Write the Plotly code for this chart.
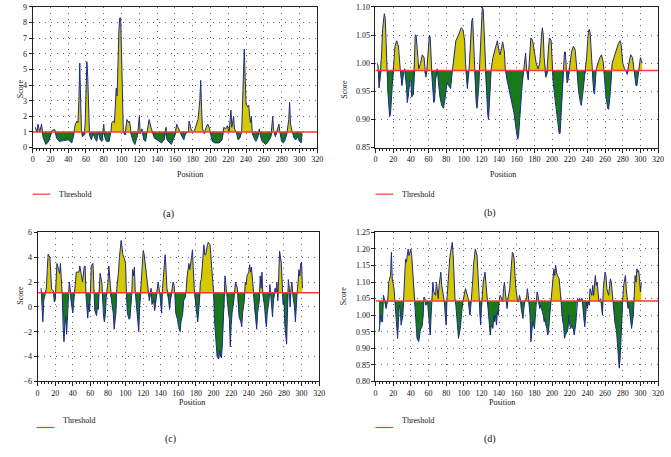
import plotly.graph_objects as go

# ---------------- data ----------------
PROFILE_A = [(3,1.3),(5,1.0),(6,1.5),(8,1.0),(10,1.5),(12,0.6),(15,0.2),(18,0.4),(22,1.1),(25,1.15),
 (27,0.6),(30,0.4),(35,0.45),(40,0.5),(44,0.3),(46,0.7),(47,1.2),(48,1.5),(50,1.7),(51,1.6),
 (52,3.0),(53,5.4),(54,3.0),(55,1.0),(56,0.7),(58,0.8),(59,1.5),(60,3.0),(61,5.5),(62,4.5),
 (63,2.0),(64,0.8),(66,0.5),(68,0.9),(70,0.6),(72,0.4),(74,1.0),(76,0.5),(78,0.4),(80,1.5),
 (81,0.7),(83,0.4),(86,0.4),(88,1.0),(89,1.6),(91,1.7),(92,1.6),(93,3.4),(94,3.8),(95,3.3),
 (96,6.8),(97,7.5),(98,8.3),(99,8.3),(100,6.0),(101,2.3),(102,1.0),(104,0.8),(106,1.8),(108,1.6),
 (109,1.7),(111,0.8),(113,0.4),(115,0.2),(118,0.8),(120,2.0),(121,0.9),(123,1.2),(125,0.5),(127,0.4),
 (129,1.0),(131,1.8),(133,1.3),(135,0.9),(137,0.6),(140,0.5),(142,0.4),(145,0.3),(148,0.5),(150,1.3),
 (151,0.5),(153,0.4),(156,0.2),(158,0.5),(160,0.8),(162,1.5),(164,1.2),(166,1.0),(168,0.7),(170,0.5),
 (172,0.9),(175,1.0),(176,1.7),(178,1.2),(180,1.0),(182,1.1),(184,1.5),(186,1.8),(188,3.0),(189,4.3),
 (190,2.5),(191,1.2),(193,0.9),(195,1.3),(197,1.5),(199,1.2),(200,0.9),(202,0.4),(205,0.3),(210,0.3),
 (213,0.5),(215,1.3),(217,1.2),(219,1.4),(221,1.0),(222,1.8),(223,2.4),(224,1.3),(226,2.0),(227,1.2),
 (229,1.0),(231,0.5),(233,0.6),(235,1.0),(236,3.0),(237,5.0),(238,6.3),(239,4.5),(240,2.8),(242,2.6),
 (243,2.7),(244,2.0),(245,1.6),(246,2.0),(247,0.9),(249,0.6),(251,0.4),(253,0.6),(255,1.2),(256,0.8),
 (258,0.4),(260,0.3),(262,0.2),(264,0.3),(266,0.5),(268,0.7),(270,2.0),(271,1.1),(273,0.7),(275,1.2),
 (277,1.5),(278,1.0),(280,0.4),(282,0.3),(284,0.5),(286,0.9),(288,1.8),(289,2.9),(290,1.5),(292,1.0),
 (294,0.6),(296,0.5),(298,0.7),(300,0.4),(302,0.3),(303,0.9)]

PROFILE_B = [(2,1.0),(3,0.995),(4,0.956),(5,0.97),(7,1.02),(8,1.06),(10,1.088),(11,1.08),(12,1.04),(13,0.99),
 (14,0.95),(16,0.905),(17,0.91),(19,0.96),(21,1.0),(22,1.03),(24,1.04),(26,1.03),(28,0.99),(29,0.97),
 (30,0.96),(32,0.985),(33,0.99),(35,0.96),(36,0.93),(37,0.94),(39,0.97),(40,0.97),(41,0.94),(43,0.945),
 (45,1.05),(46,1.05),(48,1.0),(49,0.99),(51,1.0),(53,1.015),(55,1.01),(56,0.98),(57,0.975),(58,0.985),
 (60,1.03),(61,1.05),(62,1.045),(63,1.0),(64,0.975),(66,0.93),(67,0.935),(68,0.97),(70,0.99),(71,0.97),
 (73,0.94),(75,0.925),(77,0.92),(79,0.94),(81,0.965),(83,0.96),(85,0.955),(87,0.985),(89,1.02),(91,1.04),
 (94,1.05),(97,1.063),(99,1.06),(101,1.04),(102,1.0),(103,0.97),(104,0.955),(106,0.99),(108,1.06),(109,1.075),
 (110,1.08),(111,1.04),(112,0.99),(114,0.93),(115,0.92),(117,0.96),(118,1.0),(120,1.06),(121,1.10),(122,1.095),
 (123,1.06),(124,1.0),(125,0.96),(127,0.91),(128,0.90),(130,0.95),(131,0.99),(133,1.01),(136,1.03),(138,1.04),
 (140,1.02),(141,1.015),(143,1.03),(144,1.038),(146,1.02),(147,0.99),(149,0.97),(151,0.955),(153,0.945),(155,0.93),
 (157,0.91),(159,0.885),(161,0.865),(162,0.87),(164,0.92),(166,0.96),(168,0.99),(169,1.01),(170,1.018),(171,0.99),
 (172,0.975),(173,0.97),(174,1.0),(176,1.045),(178,1.04),(180,1.02),(182,1.0),(184,0.99),(186,1.0),(188,1.05),
 (189,1.063),(190,1.05),(191,1.01),(193,0.975),(194,0.98),(196,1.03),(197,1.045),(199,1.04),(200,1.0),(201,0.97),
 (203,0.94),(205,0.91),(207,0.88),(208,0.875),(209,0.875),(211,0.93),(213,0.98),(214,1.02),(215,1.02),(216,0.98),
 (217,0.965),(218,0.97),(220,1.0),(222,1.02),(224,1.03),(226,1.025),(228,0.99),(230,0.95),(232,0.93),(233,0.925),
 (235,0.95),(237,0.98),(239,1.01),(241,1.055),(242,1.06),(243,1.055),(245,0.99),(247,0.95),(248,0.945),(250,0.99),
 (252,1.0),(254,1.01),(256,1.015),(258,1.0),(259,0.98),(261,0.94),(263,0.92),(264,0.918),(266,0.95),(268,1.0),
 (270,1.01),(272,1.02),(275,1.035),(277,1.04),(278,1.035),(280,1.0),(282,0.99),(284,0.985),(285,0.98),(287,1.0),
 (289,1.015),(291,1.01),(293,0.985),(295,0.96),(296,0.96),(298,0.99),(300,1.01),(301,1.005),(302,1.0)]

PROFILE_C = [(4,1.5),(5,0.5),(6,-1.2),(7,0.5),(9,1.3),(10,1.5),(11,3.0),(12,4.25),(14,4.0),(15,2.5),
 (16,1.4),(18,1.3),(19,0.4),(20,0.5),(21,2.0),(22,3.5),(24,3.0),(25,2.7),(26,3.5),(27,2.5),
 (28,1.0),(29,-1.5),(30,-2.8),(31,-1.5),(32,-0.8),(33,-2.2),(34,-1.0),(35,1.0),(36,2.0),(37,1.5),
 (38,0.5),(40,-0.5),(41,0.3),(42,1.2),(44,2.8),(47,2.8),(48,3.3),(50,2.5),(51,2.0),(53,3.2),
 (54,3.3),(55,1.0),(56,-0.3),(57,-0.9),(58,0.2),(59,-0.4),(60,1.0),(61,3.3),(63,3.5),(64,1.5),
 (65,-0.3),(67,-0.7),(68,0.0),(69,-0.2),(70,1.5),(71,2.7),(73,2.0),(74,0.5),(75,-0.8),(76,-1.2),
 (77,-0.6),(78,0.8),(80,2.0),(81,3.3),(82,2.3),(84,0.5),(86,-0.5),(87,-1.8),(89,-0.5),(90,1.5),
 (92,2.8),(93,4.0),(95,5.35),(96,4.5),(97,4.2),(99,3.8),(100,3.5),(101,1.0),(102,-0.5),(104,-1.0),
 (105,-0.9),(107,1.0),(108,3.0),(109,2.5),(110,3.2),(111,1.2),(113,-0.5),(114,-1.5),(115,-2.0),(116,0.0),
 (118,2.0),(119,3.5),(120,4.5),(121,4.3),(123,3.0),(124,2.5),(126,1.5),(127,0.5),(129,1.5),(130,0.2),
 (132,0.5),(133,-0.3),(134,0.2),(136,1.5),(137,2.0),(139,1.0),(140,0.0),(141,-0.5),(142,1.5),(143,2.5),
 (145,4.2),(146,3.0),(147,1.5),(149,0.5),(150,-0.2),(151,0.5),(153,1.5),(154,2.0),(155,1.8),(156,1.0),
 (157,-0.5),(159,-1.0),(160,-1.5),(162,-2.0),(163,-1.2),(165,-0.5),(166,0.5),(168,0.8),(169,1.5),(170,2.5),
 (172,3.5),(173,3.0),(175,4.0),(176,4.6),(177,3.0),(178,1.5),(180,0.0),(181,-1.0),(182,-1.2),(184,0.5),
 (185,2.0),(186,2.2),(188,4.0),(189,5.0),(190,4.2),(191,4.2),(193,5.0),(194,5.2),(196,5.0),(197,4.0),
 (198,2.5),(200,1.2),(201,-1.0),(202,-2.0),(203,-3.0),(204,-4.0),(206,-4.2),(207,-3.5),(208,-4.0),(209,-4.1),
 (210,-3.0),(211,-1.5),(212,0.5),(213,2.5),(215,1.0),(216,0.0),(217,-0.5),(218,-1.0),(219,-3.2),(220,-1.5),
 (221,-0.5),(223,0.5),(224,1.5),(225,2.0),(227,1.5),(228,0.0),(229,-0.8),(231,-1.2),(232,-1.6),(233,-0.5),
 (235,0.5),(236,2.0),(237,1.8),(238,2.5),(240,2.8),(241,3.4),(242,2.8),(243,3.2),(245,1.5),(246,0.0),
 (248,-1.0),(249,-1.8),(250,-0.5),(252,0.5),(253,2.5),(254,1.5),(255,2.8),(256,1.0),(258,0.0),(259,-1.0),
 (260,-1.6),(261,-0.5),(263,0.5),(264,1.8),(265,1.0),(266,0.0),(267,-0.8),(268,0.5),(270,1.5),(271,1.2),
 (272,2.0),(273,0.5),(274,2.5),(275,4.5),(277,3.5),(278,1.5),(279,0.2),(280,0.5),(281,-1.5),(283,-3.0),
 (284,-0.5),(285,2.2),(286,1.5),(287,0.0),(288,1.5),(289,2.0),(290,1.0),(292,0.0),(293,-1.2),(294,0.5),
 (295,1.2),(296,2.0),(297,3.0),(298,2.5),(299,3.5),(300,3.6),(301,1.5)]

# panel (d): positions 4..301 sampled, except these unsampled positions
D_GAPS = {11,20,30,39,48,58,67,76,86,95,104,114,123,132,142,151,160,170,179,188,198,207,216,226,235,244,254,263,272,282,291}
D_VAL = [0.95,0.98,1.00,0.98,0.98,1.06,1.05,1.02,1.04,1.05,
 1.10,1.11,1.12,1.19,1.11,1.08,1.04,1.00,0.96,0.93,
 0.98,1.03,1.02,0.97,1.00,1.05,1.12,1.17,1.16,1.19,
 1.20,1.18,1.20,1.18,1.14,1.10,1.05,1.02,0.97,0.93,
 0.92,0.95,0.96,0.96,0.97,1.00,1.055,1.05,1.03,1.04,
 1.00,0.95,0.94,1.00,1.06,1.10,1.07,1.06,1.10,1.08,
 1.05,1.09,1.12,1.13,1.09,1.05,1.04,1.00,0.97,1.05,
 1.10,1.13,1.17,1.19,1.22,1.18,1.10,1.05,1.03,0.99,
 0.96,0.93,0.96,1.00,1.02,1.04,1.06,1.07,1.08,1.07,
 1.05,1.02,1.00,1.03,1.06,1.10,1.15,1.17,1.20,1.18,
 1.12,1.05,1.00,0.97,1.02,1.06,1.10,1.13,1.10,1.06,
 1.03,1.00,0.96,0.94,0.97,0.96,1.00,0.98,1.00,0.97,
 1.01,1.00,1.04,1.06,1.05,1.04,1.08,1.10,1.07,1.05,
 1.02,1.05,1.08,1.12,1.16,1.19,1.185,1.17,1.12,1.08,
 1.04,1.04,1.06,1.05,1.02,1.00,0.99,1.02,1.04,1.05,
 1.08,1.06,1.03,1.00,0.92,0.95,0.98,0.96,1.01,1.05,
 1.07,1.06,1.03,1.02,1.03,1.01,1.00,0.98,0.99,0.97,
 0.96,0.94,0.95,0.99,1.05,1.10,1.12,1.14,1.12,1.15,
 1.13,1.12,1.11,1.08,1.05,1.00,0.98,0.97,0.93,0.94,
 0.95,0.96,1.00,0.97,0.96,0.97,0.96,0.96,0.94,0.98,
 1.04,1.05,1.04,1.05,1.04,1.05,1.05,0.98,0.965,1.00,
 1.04,1.02,1.04,1.03,1.08,1.06,1.09,1.06,1.10,1.12,
 1.09,1.10,1.07,1.04,1.05,1.02,1.00,1.08,1.10,1.13,
 1.12,1.08,1.06,1.10,1.11,1.10,1.07,1.04,1.00,0.98,
 0.95,0.92,0.89,0.84,0.87,0.95,1.00,1.05,1.09,1.12,
 1.08,1.03,1.02,1.03,1.00,0.97,0.96,1.00,1.06,1.12,
 1.10,1.14,1.13,1.135,1.11,1.07,1.10]
D_POS = [p for p in range(4, 302) if p not in D_GAPS]

A_POS, A_VAL = [list(t) for t in zip(*PROFILE_A)]
B_POS, B_VAL = [list(t) for t in zip(*PROFILE_B)]
C_POS, C_VAL = [list(t) for t in zip(*PROFILE_C)]

THRESHOLDS = [1.0, 0.987, 1.15, 1.043]
Y_RANGES = [(0, 9), (0.85, 1.10), (-6, 6), (0.80, 1.25)]
Y_DTICKS = [1, 0.05, 2, 0.05]
Y_FORMATS = ["d", ".2f", "d", ".2f"]
X_TICKS = list(range(0, 321, 20))
CAPTIONS = ["(a)", "(b)", "(c)", "(d)"]

# ---------------- style ----------------
W, H = 671, 457
FONT = "Liberation Serif"
TXT = "#111"
YELLOW = "#d6c900"
GREEN = "#18781a"
NAVY = "#1c2a8a"
RED = "#ff3a3a"

def fx(p):
    return p / W

def fy(p):
    return 1 - p / H

# plot-area boxes in pixels: (left, right, top, bottom)
BOXES = [(31, 319, 3, 146.5), (378, 664, 3, 146.5), (36, 321, 233, 385), (378, 664, 233, 385)]
SCORE_X = [12, 347, 12, 346]
POS_X = [175, 522, 177, 521]
POS_Y = [174, 174, 413, 413]
LEG_X = [31, 378, 35, 378]
LEG_Y = [194, 194, 432, 432]
CAP_X = [161, 502, 163, 502]
CAP_Y = [214, 213, 452, 452]

series = [(A_POS, A_VAL), (B_POS, B_VAL), (C_POS, C_VAL), (D_POS, D_VAL)]

fig = go.Figure()
layout = dict(
    width=W, height=H, margin=dict(l=0, r=0, t=0, b=0),
    paper_bgcolor="white", plot_bgcolor="white", showlegend=False,
    font=dict(family=FONT, size=8, color=TXT),
)
annotations = []
shapes = []

for i, ((xs, ys), thr) in enumerate(zip(series, THRESHOLDS)):
    k = "" if i == 0 else str(i + 1)
    xa, ya = "x" + k, "y" + k
    upper = [max(v, thr) for v in ys]
    lower = [min(v, thr) for v in ys]
    base = [thr] * len(xs)
    common = dict(xaxis=xa, yaxis=ya, hoverinfo="skip", mode="lines")
    fig.add_trace(go.Scatter(x=xs, y=base, line=dict(width=0), **common))
    fig.add_trace(go.Scatter(x=xs, y=upper, fill="tonexty", fillcolor=YELLOW, line=dict(width=0), **common))
    fig.add_trace(go.Scatter(x=xs, y=base, line=dict(width=0), **common))
    fig.add_trace(go.Scatter(x=xs, y=lower, fill="tonexty", fillcolor=GREEN, line=dict(width=0), **common))
    fig.add_trace(go.Scatter(x=xs, y=ys, line=dict(color=NAVY, width=1), **common))
    fig.add_trace(go.Scatter(x=[0, 320], y=[thr, thr], line=dict(color=RED, width=1.5), **common))

    l, r, t, b = BOXES[i]
    layout["xaxis" + k] = dict(
        domain=[fx(l), fx(r)], anchor=ya, range=[0, 320], tickvals=X_TICKS,
        showgrid=True, gridcolor="#666", griddash="1px,5px", gridwidth=1,
        showline=True, linecolor="#222", linewidth=1, mirror=True,
        ticks="outside", ticklen=4, tickcolor="#222", zeroline=False,
        minor=dict(dtick=4, ticks="outside", ticklen=2, tickcolor="#222", showgrid=False),
        tickfont=dict(family=FONT, size=8, color=TXT), fixedrange=True,
    )
    y0, y1 = Y_RANGES[i]
    layout["yaxis" + k] = dict(
        domain=[fy(b), fy(t)], anchor=xa, range=[y0, y1], dtick=Y_DTICKS[i], tick0=y0,
        tickformat=Y_FORMATS[i],
        showgrid=True, gridcolor="#666", griddash="1px,5px", gridwidth=1,
        showline=True, linecolor="#222", linewidth=1, mirror=True,
        ticks="outside", ticklen=3, tickcolor="#222", zeroline=False,
        tickfont=dict(family=FONT, size=8, color=TXT), fixedrange=True,
    )
    annotations.append(dict(text="Score", x=fx(SCORE_X[i]), y=fy((t + b) / 2), xref="paper", yref="paper",
                            textangle=-90, showarrow=False, font=dict(family=FONT, size=8, color=TXT)))
    annotations.append(dict(text="Position", x=fx(POS_X[i]), y=fy(POS_Y[i]), xref="paper", yref="paper",
                            showarrow=False, font=dict(family=FONT, size=8, color=TXT)))
    annotations.append(dict(text="Threshold", x=fx(LEG_X[i] + 25), y=fy(LEG_Y[i]), xref="paper", yref="paper",
                            xanchor="left", showarrow=False, font=dict(family=FONT, size=8, color=TXT)))
    annotations.append(dict(text=CAPTIONS[i], x=fx(CAP_X[i]), y=fy(CAP_Y[i]), xref="paper", yref="paper",
                            showarrow=False, font=dict(family=FONT, size=10, color=TXT)))
    shapes.append(dict(type="line", xref="paper", yref="paper", x0=fx(LEG_X[i]), x1=fx(LEG_X[i] + 18),
                       y0=fy(LEG_Y[i]), y1=fy(LEG_Y[i]), line=dict(color=RED, width=1.2)))

layout["annotations"] = annotations
layout["shapes"] = shapes
fig.update_layout(**layout)
fig.write_html("out.html", config={"displayModeBar": False, "staticPlot": True},
               post_script="document.body.style.margin='0';document.body.style.overflow='hidden';")
